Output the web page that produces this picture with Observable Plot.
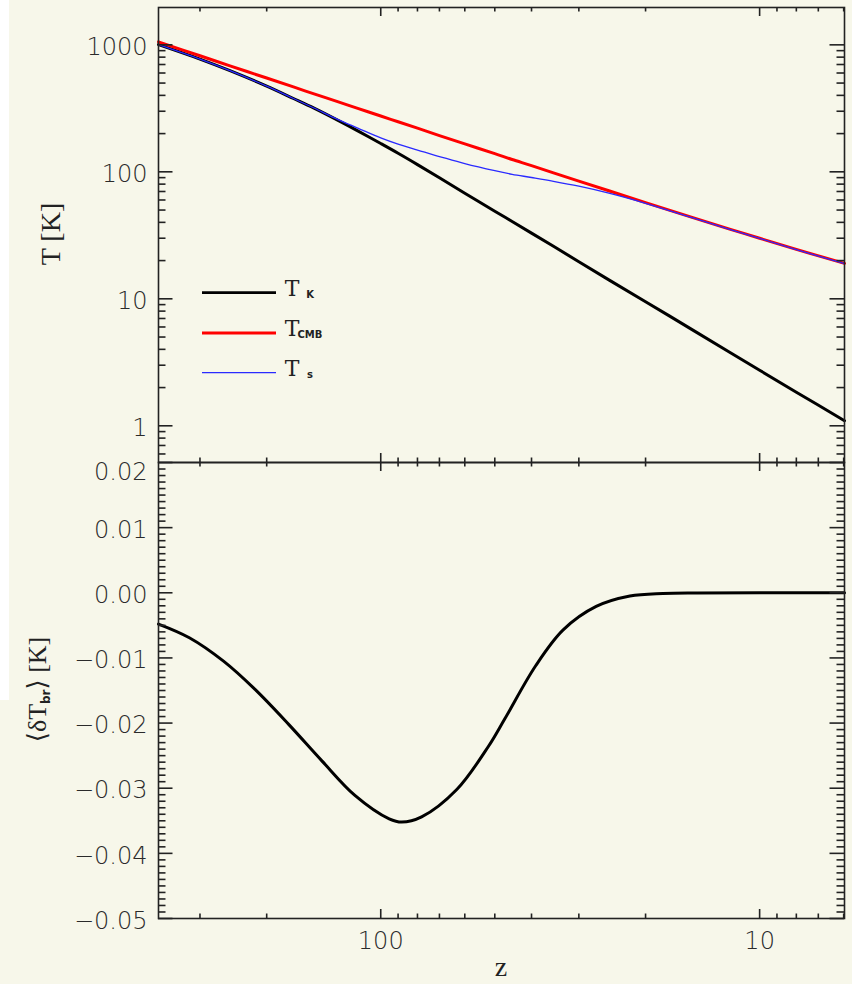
<!DOCTYPE html>
<html>
<head>
<meta charset="utf-8">
<script src="https://cdn.jsdelivr.net/npm/d3@7"></script>
<script src="https://cdn.jsdelivr.net/npm/@observablehq/plot@0.6"></script>
<style>
html, body { margin: 0; padding: 0; background: #f7f7ea; }
#wrap { position: relative; width: 852px; height: 984px; background: #f7f7ea; overflow: hidden; }
#strip { position: absolute; left: 0; top: 0; width: 9px; height: 700px; background: #ffffff; }
#top, #bot { position: absolute; left: 0; }
#top { top: 0; }
#bot { top: 461px; }
svg { overflow: visible; background: transparent; }
</style>
</head>
<body>
<div id="wrap"><div id="strip"></div><div id="top"></div><div id="bot"></div></div>
<script>
// ---- data ----
const zTop = [386, 300, 250, 200, 170, 150, 130, 115, 100, 90, 80, 70, 60, 50, 45, 40, 35, 30, 25, 20, 15, 12, 10, 8, 5.97];
const tK   = [1005, 773, 626, 473, 378, 317, 255, 210, 167, 140, 114, 89.7, 67.9, 49.0, 40.6, 32.9, 25.9, 19.6, 14.1, 9.49, 5.67, 3.80, 2.74, 1.84, 1.097];
const tCMB = [1055, 820, 683, 548, 466, 411, 357, 316, 275, 248, 221, 193, 166, 139, 125, 112, 98.1, 84.5, 70.9, 57.2, 43.6, 35.4, 30.0, 24.5, 19.0];
const tS   = [1005, 773, 626, 473, 378, 318, 259, 221, 185, 165, 148, 132, 116, 102, 95.6, 90.2, 84.2, 77.0, 67.9, 56.5, 43.3, 35.2, 29.9, 24.4, 18.9];

const zBot = [386, 320, 260, 215, 175, 143, 117, 95, 88, 78, 63, 52, 47, 39, 33, 27, 22, 18, 14.6, 10, 5.97];
const dTb  = [-0.0048, -0.0069, -0.0105, -0.0148, -0.0202, -0.0258, -0.0311, -0.0347, -0.0352, -0.0344, -0.0302, -0.0236, -0.0193, -0.0112, -0.0057, -0.0021, -0.0005, -0.0001, -0.00002, 0, 0];

const zMajor = [100, 10];
const zMinor = [300, 200, 90, 80, 70, 60, 50, 40, 30, 20, 9, 8, 7, 6];
const tMajor = [1, 10, 100, 1000];
const tMinor = [0.6, 0.7, 0.8, 0.9, 2, 3, 4, 5, 6, 7, 8, 9, 20, 30, 40, 50, 60, 70, 80, 90, 200, 300, 400, 500, 600, 700, 800, 900];
const dMajor = [-0.05, -0.04, -0.03, -0.02, -0.01, 0, 0.01, 0.02];
const dMinor = d3.range(-50, 21).filter(i => i % 10 !== 0).map(i => i / 1000);

const seriesNames = ["K", "CMB", "s"];
const seriesColors = ["#000000", "#ff0000", "#2a2aff"];

// ---- layout ----
const W = 686, H1 = 455, H2 = 456;
const numFont = "DejaVu Sans";
const tickCol = "#222";
const xOpt = {type: "log", domain: [386, 5.97], axis: null};

function xTicks(H) {
  const o = {stroke: tickCol, strokeWidth: 1.6};
  return [
    Plot.tickX(zMajor, {x: d => d, insetTop: H - 9, ...o}),
    Plot.tickX(zMajor, {x: d => d, insetBottom: H - 9, ...o}),
    Plot.tickX(zMinor, {x: d => d, insetTop: H - 4.5, ...o}),
    Plot.tickX(zMinor, {x: d => d, insetBottom: H - 4.5, ...o})
  ];
}
function yTicks(maj, min) {
  const o = {stroke: tickCol, strokeWidth: 1.6};
  return [
    Plot.tickY(maj, {y: d => d, insetRight: W - 14.5, ...o}),
    Plot.tickY(maj, {y: d => d, insetLeft: W - 14.5, ...o}),
    Plot.tickY(min, {y: d => d, insetRight: W - 7.5, ...o}),
    Plot.tickY(min, {y: d => d, insetLeft: W - 7.5, ...o})
  ];
}

const topData = zTop.map((z, i) => ({z, tK: tK[i], tCMB: tCMB[i], tS: tS[i]}));
const botData = zBot.map((z, i) => ({z, v: dTb[i]}));

const labelStyle = {fontSize: 24, fontFamily: numFont, fontWeight: 300, fill: "#2a2a2a"};

const topPlot = Plot.plot({
  width: 852, height: 463,
  marginTop: 7, marginBottom: 1, marginLeft: 158, marginRight: 8,
  style: {background: "transparent", overflow: "visible"},
  x: xOpt,
  y: {type: "log", domain: [0.514, 1968], axis: null},
  marks: [
    Plot.line(topData, {x: "z", y: "tK", stroke: seriesColors[0], strokeWidth: 3, curve: "catmull-rom"}),
    Plot.line(topData, {x: "z", y: "tCMB", stroke: seriesColors[1], strokeWidth: 3, curve: "catmull-rom"}),
    Plot.line(topData, {x: "z", y: "tS", stroke: seriesColors[2], strokeWidth: 1.3, curve: "catmull-rom"}),
    ...xTicks(H1),
    ...yTicks(tMajor, tMinor),
    Plot.frame({stroke: tickCol, strokeWidth: 1.6}),
    Plot.text(tMajor, {y: d => d, frameAnchor: "left", text: d => String(d), textAnchor: "end",
      dx: -11, dy: 2.5, ...labelStyle})
  ]
});

const fmt = d3.format(".2f");
const botPlot = Plot.plot({
  width: 852, height: 523,
  marginTop: 1, marginBottom: 66, marginLeft: 158, marginRight: 8,
  style: {background: "transparent", overflow: "visible"},
  x: xOpt,
  y: {domain: [-0.05, 0.02], axis: null},
  marks: [
    Plot.line(botData, {x: "z", y: "v", stroke: "#000", strokeWidth: 3, curve: "catmull-rom"}),
    ...xTicks(H2),
    ...yTicks(dMajor, dMinor),
    Plot.frame({stroke: tickCol, strokeWidth: 1.6}),
    Plot.text(dMajor, {filter: d => d < 0.015, y: d => d, frameAnchor: "left", text: d => fmt(d), textAnchor: "end",
      dx: -11, dy: 2.5, ...labelStyle}),
    Plot.text(dMajor, {filter: d => d > 0.015, y: d => d, frameAnchor: "left", text: d => fmt(d), textAnchor: "end",
      dx: -11, dy: 10, ...labelStyle}),
    Plot.text(zMajor, {x: d => d, frameAnchor: "bottom", text: d => String(d), dy: 30, ...labelStyle})
  ]
});

document.getElementById("top").appendChild(topPlot);
document.getElementById("bot").appendChild(botPlot);

// ---- titles and legend ----
const serif = "Liberation Serif, DejaVu Serif, serif";
const st = d3.select(topPlot);
st.append("text")
  .attr("transform", "translate(50,234) rotate(-90)")
  .attr("text-anchor", "middle").attr("dy", "0.35em")
  .attr("font-family", serif).attr("font-size", 28).attr("fill", "#222")
  .text("T [K]");

const legY = [292.7, 333, 372.7];
const legW = [2.8, 2.8, 1.3];
seriesNames.forEach((name, i) => {
  st.append("line").attr("x1", 202).attr("x2", 276).attr("y1", legY[i]).attr("y2", legY[i])
    .attr("stroke", seriesColors[i]).attr("stroke-width", legW[i]);
  st.append("text").attr("x", 292).attr("y", legY[i] + 3)
    .attr("font-family", "DejaVu Serif, serif").attr("font-size", 22).attr("fill", "#222").text("T");
  st.append("text").attr("x", 310).attr("y", legY[i] + 5)
    .attr("font-family", "DejaVu Sans, sans-serif").attr("font-size", 10).attr("font-weight", "bold")
    .attr("fill", "#222").text(name);
});

const sb = d3.select(botPlot);
const yl = sb.append("text")
  .attr("transform", "translate(37,228.5) rotate(-90)")
  .attr("text-anchor", "middle").attr("dy", "0.35em")
  .attr("font-family", serif).attr("font-size", 26).attr("fill", "#222");
yl.append("tspan").text("⟨δT");
yl.append("tspan").attr("font-size", 12).attr("font-weight", "bold").attr("dy", 4).attr("font-family", "DejaVu Sans, sans-serif").text("br");
yl.append("tspan").attr("dy", -4).text("⟩ [K]");

sb.append("text").attr("x", 501).attr("y", 515)
  .attr("text-anchor", "middle")
  .attr("font-family", serif).attr("font-size", 28).attr("fill", "#222")
  .text("z");
</script>
</body>
</html>
